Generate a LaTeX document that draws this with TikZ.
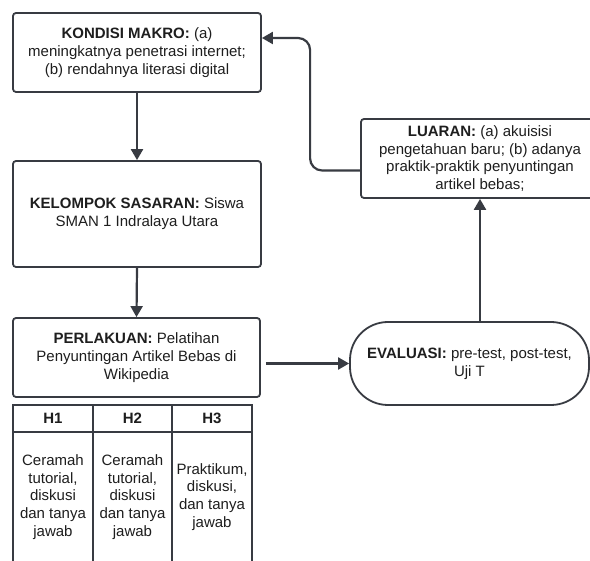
\documentclass[tikz,border=0pt]{standalone}
\usepackage{fontspec}
\setmainfont{Liberation Sans}
\usetikzlibrary{arrows.meta,calc}
\definecolor{ln}{HTML}{383B42}
\definecolor{tx}{HTML}{1E1E1E}
\begin{document}
\begin{tikzpicture}[x=1pt,y=-1pt,
  txt/.style={align=center, inner sep=0pt, text=tx, font=\fontsize{15}{17.8}\selectfont},
  box/.style={txt, draw=ln, line width=1.8pt, rounded corners=3pt},
  cell/.style={txt, draw=ln, line width=1.6pt},
  conn/.style={draw=ln, line width=2.2pt, -{Triangle[length=11pt,width=12pt]}}]
\useasboundingbox (0,0) rectangle (590,561);
\fill[white] (0,0) rectangle (590,561);
\clip (0,0) rectangle (590,561);

\node[box, minimum width=248pt, minimum height=79pt] (kond) at (137,52.5)
  {\textbf{KONDISI MAKRO:} (a)\\meningkatnya penetrasi internet;\\(b) rendahnya literasi digital};
\node[box, minimum width=248pt, minimum height=106pt] (kel) at (137,214)
  {\textbf{KELOMPOK SASARAN:} Siswa\\SMAN 1 Indralaya Utara};
\node[box, minimum width=247pt, minimum height=79pt] (perl) at (136.5,357.5)
  {\textbf{PERLAKUAN:} Pelatihan\\Penyuntingan Artikel Bebas di\\Wikipedia};
\node[box, rounded corners=38pt, minimum width=239pt, minimum height=83pt] (eval) at (469.5,363.5)
  {\textbf{EVALUASI:} pre-test, post-test,\\Uji T};
\node[box, minimum width=238pt, minimum height=79pt] (luar) at (480,158.5)
  {\textbf{LUARAN:} (a) akuisisi\\pengetahuan baru; (b) adanya\\praktik-praktik penyuntingan\\artikel bebas;};

% table
\node[cell, minimum width=80pt, minimum height=27pt] (h1) at (53,418.5) {\textbf{H1}};
\node[cell, minimum width=79pt, minimum height=27pt] (h2) at (132.5,418.5) {\textbf{H2}};
\node[cell, minimum width=80pt, minimum height=27pt] (h3) at (212,418.5) {\textbf{H3}};
\node[cell, minimum width=80pt, minimum height=130pt] (b1) at (53,497)
  {Ceramah\\tutorial,\\diskusi\\dan tanya\\jawab};
\node[cell, minimum width=79pt, minimum height=130pt] (b2) at (132.5,497)
  {Ceramah\\tutorial,\\diskusi\\dan tanya\\jawab};
\node[cell, minimum width=80pt, minimum height=130pt] (b3) at (212,497)
  {Praktikum,\\diskusi,\\dan tanya\\jawab};

% connectors
\draw[conn] (kond.south) -- (kel.north);
\draw[conn] (kel.south) -- (perl.north);
\draw[conn] ($(perl.east |- eval.west)+(5,0)$) -- (eval.west);
\draw[conn] (eval.north -| luar.south) -- (luar.south);
\draw[conn, rounded corners=12pt] ($(luar.west)+(0,12)$) -- ++(-50,0) |- ($(kond.east)+(0,-14.5)$);
\end{tikzpicture}
\end{document}
